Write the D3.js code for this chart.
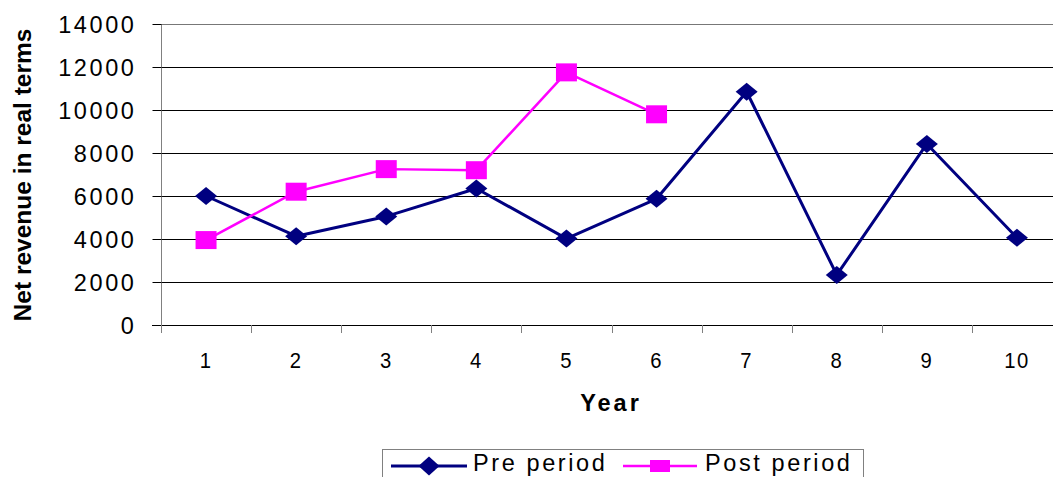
<!DOCTYPE html>
<html>
<head>
<meta charset="utf-8">
<script src="https://cdn.jsdelivr.net/npm/d3@7"></script>
<style>
  html, body { margin: 0; padding: 0; background: #fff; }
  svg { display: block; font-family: "Liberation Sans", Arial, sans-serif; }
</style>
</head>
<body>
<svg id="chart" width="1053" height="477"></svg>
<script>
// Years on the category axis
const years = ["1", "2", "3", "4", "5", "6", "7", "8", "9", "10"];
// Net revenue in real terms, before and after
const preValues = [6000, 4130, 5050, 6350, 4020, 5870, 10850, 2330, 8420, 4060];
const postValues = [3950, 6200, 7250, 7200, 11750, 9800];
// Value axis ticks
const yTicks = [0, 2000, 4000, 6000, 8000, 10000, 12000, 14000];

const seriesInfo = [
  { name: "Pre period", values: preValues, color: "#000080", width: 3, marker: "diamond" },
  { name: "Post period", values: postValues, color: "#FF00FF", width: 2.5, marker: "square" }
];

const svg = d3.select("#chart");
const plotLeft = 161, plotRight = 1062, plotTop = 24, plotBottom = 325;

const x = d3.scaleBand().domain(years).range([plotLeft, plotRight]).padding(0);
const y = d3.scaleLinear().domain([0, 14000]).range([plotBottom, plotTop]);
const cx = d => x(d) + x.bandwidth() / 2;

// Horizontal gridlines
svg.append("g")
  .selectAll("line")
  .data(yTicks.filter(v => v > 0))
  .join("line")
  .attr("x1", plotLeft).attr("x2", plotRight)
  .attr("y1", d => Math.round(y(d)) + 0.5).attr("y2", d => Math.round(y(d)) + 0.5)
  .attr("stroke", d => d === 14000 ? "#777" : "#000")
  .attr("stroke-width", 1);

// Value axis
const yAxis = svg.append("g")
  .attr("transform", `translate(${plotLeft + 0.5},0)`)
  .call(d3.axisLeft(y).tickValues(yTicks).tickSize(9).tickPadding(16).tickFormat(d3.format("d")));
yAxis.select(".domain").attr("stroke", "#808080").attr("d", `M0,${plotTop}V${plotBottom}`);
yAxis.selectAll(".tick line").attr("stroke", "#000");
yAxis.selectAll(".tick text")
  .attr("font-size", 23.5)
  .attr("letter-spacing", "2.6px")
  .attr("fill", "#000")
  .attr("dy", "0.36em")
  .attr("font-family", "Liberation Sans, Arial, sans-serif");

// Category axis: baseline, tick marks at band edges, labels at centres
const xAxis = svg.append("g");
xAxis.append("line")
  .attr("x1", plotLeft - 9).attr("x2", plotRight)
  .attr("y1", plotBottom + 0.5).attr("y2", plotBottom + 0.5)
  .attr("stroke", "#000");
xAxis.selectAll("line.tk")
  .data(years)
  .join("line")
  .attr("class", "tk")
  .attr("x1", d => Math.round(x(d)) + 0.5).attr("x2", d => Math.round(x(d)) + 0.5)
  .attr("y1", plotBottom).attr("y2", plotBottom + 8)
  .attr("stroke", "#808080");
xAxis.selectAll("text")
  .data(years)
  .join("text")
  .attr("transform", d => `translate(${cx(d)},368) scale(0.9,1)`)
  .attr("text-anchor", "middle")
  .attr("font-size", 22.5)
  .attr("letter-spacing", "1.5px")
  .text(d => d);

// Axis titles
svg.append("text")
  .attr("x", 611).attr("y", 411)
  .attr("text-anchor", "middle")
  .attr("font-size", 23.5)
  .attr("font-weight", "bold")
  .attr("letter-spacing", "3px")
  .text("Year");

svg.append("text")
  .attr("transform", "translate(31,175) rotate(-90)")
  .attr("text-anchor", "middle")
  .attr("font-size", 24.5)
  .attr("font-weight", "bold")
  .text("Net revenue in real terms");

// Marker shapes
function markerPath(type, w, h) {
  if (type === "diamond") {
    return `M0,${-h / 2}L${w / 2},0L0,${h / 2}L${-w / 2},0Z`;
  }
  return `M${-w / 2},${-h / 2}H${w / 2}V${h / 2}H${-w / 2}Z`;
}

// Series lines and markers
seriesInfo.forEach(s => {
  const pts = s.values.map((v, i) => ({ year: years[i], value: v }));
  const line = d3.line().x(d => cx(d.year)).y(d => y(d.value));
  svg.append("path")
    .datum(pts)
    .attr("d", line)
    .attr("fill", "none")
    .attr("stroke", s.color)
    .attr("stroke-width", s.width)
    .attr("stroke-linejoin", "round");
  svg.append("g")
    .selectAll("path")
    .data(pts)
    .join("path")
    .attr("transform", d => `translate(${cx(d.year)},${y(d.value)})`)
    .attr("d", markerPath(s.marker, s.marker === "diamond" ? 22 : 21, 18))
    .attr("fill", s.color);
});

// Legend
const legend = svg.append("g");
legend.append("rect")
  .attr("x", 382.5).attr("y", 449.5)
  .attr("width", 481).attr("height", 40)
  .attr("fill", "#fff")
  .attr("stroke", "#808080");

const legendItems = [
  { s: seriesInfo[0], x0: 391, x1: 467, tx: 473, mw: 21, mh: 19 },
  { s: seriesInfo[1], x0: 623, x1: 697, tx: 705, mw: 20, mh: 12 }
];
legendItems.forEach(it => {
  const g = legend.append("g");
  g.append("line")
    .attr("x1", it.x0).attr("x2", it.x1)
    .attr("y1", 466).attr("y2", 466)
    .attr("stroke", it.s.color)
    .attr("stroke-width", it.s.width);
  g.append("path")
    .attr("transform", `translate(${(it.x0 + it.x1) / 2},466)`)
    .attr("d", markerPath(it.s.marker, it.mw, it.mh))
    .attr("fill", it.s.color);
  g.append("text")
    .attr("x", it.tx).attr("y", 471)
    .attr("font-size", 23.5)
    .attr("letter-spacing", "2.6px")
    .text(it.s.name);
});
</script>
</body>
</html>
